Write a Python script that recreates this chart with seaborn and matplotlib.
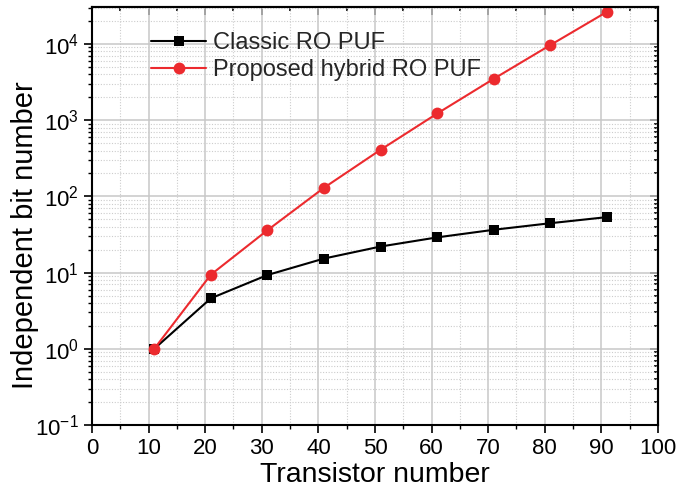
import matplotlib
matplotlib.use("Agg")
import matplotlib.pyplot as plt
from matplotlib.ticker import MultipleLocator, LogLocator, NullFormatter
import seaborn as sns
import pandas as pd

# Transistor count per PUF configuration
transistors = [11, 21, 31, 41, 51, 61, 71, 81, 91]
# Independent bits obtained by each design
classic_bits = [1, 4.6, 9.3, 15.3, 22, 29, 36.5, 44.5, 53.5]
hybrid_bits = [1, 9.4, 36, 130, 410, 1225, 3500, 9700, 26500]
series_names = ["Classic RO PUF", "Proposed hybrid RO PUF"]
x_ticks = list(range(0, 101, 10))

sns.set_theme(style="white")
plt.rcParams["font.family"] = ["Liberation Sans", "DejaVu Sans"]
plt.rcParams["mathtext.fontset"] = "custom"
plt.rcParams["mathtext.rm"] = "Liberation Sans"
plt.rcParams["mathtext.it"] = "Liberation Sans:italic"

df = pd.DataFrame({
    "Transistor number": transistors * 2,
    "bits": classic_bits + hybrid_bits,
    "series": [series_names[0]] * len(transistors) + [series_names[1]] * len(transistors),
})

fig = plt.figure(figsize=(6.8, 5.0), dpi=100)
ax = fig.add_axes([0.1353, 0.15, 0.8323, 0.836])

sns.lineplot(
    data=df, x="Transistor number", y="bits", hue="series", style="series",
    palette={series_names[0]: "black", series_names[1]: "#ec2a2e"},
    markers={series_names[0]: "s", series_names[1]: "o"},
    dashes=False, linewidth=1.5, markersize=7.5, markeredgewidth=0,
    ax=ax, legend=True,
)
# circles a touch larger than squares
for line in ax.get_lines():
    if line.get_marker() == "o":
        line.set_markersize(8.5)

ax.set_yscale("log")
ax.set_xlim(0, 100)
ax.set_ylim(0.1, 3.06e4)
ax.set_xticks(x_ticks)
ax.xaxis.set_minor_locator(MultipleLocator(5))
ax.yaxis.set_major_locator(LogLocator(base=10, numticks=20))
ax.yaxis.set_minor_locator(LogLocator(base=10, subs=range(2, 10), numticks=20))
ax.yaxis.set_minor_formatter(NullFormatter())

ax.grid(True, which="major", color="#c8c8c8", linewidth=1.1, linestyle="-")
ax.grid(True, which="minor", color="#cccccc", linewidth=0.8, linestyle=(0, (1, 1.5)))
ax.set_axisbelow(True)

for s in ax.spines.values():
    s.set_visible(True)
    s.set_color("black")
    s.set_linewidth(1.5)

ax.tick_params(axis="both", which="major", labelsize=16, length=6, width=1.2,
               color="black", labelcolor="black")
ax.tick_params(axis="both", which="minor", length=3, width=1.0, color="black")
ax.tick_params(axis="both", which="both", direction="out", bottom=True, left=True)
# inward ticks on the top and right edges
tx = ax.secondary_xaxis("top")
tx.set_xticks(x_ticks)
tx.xaxis.set_minor_locator(MultipleLocator(5))
tx.tick_params(which="both", direction="in", labeltop=False, width=1.2, color="black")
tx.tick_params(which="major", length=6)
tx.tick_params(which="minor", length=3)
tx.spines["top"].set_linewidth(1.5)
ty = ax.secondary_yaxis("right")
ty.yaxis.set_major_locator(LogLocator(base=10, numticks=20))
ty.yaxis.set_minor_locator(LogLocator(base=10, subs=range(2, 10), numticks=20))
ty.yaxis.set_minor_formatter(NullFormatter())
ty.tick_params(which="both", direction="in", labelright=False, width=1.2, color="black")
ty.tick_params(which="major", length=6)
ty.tick_params(which="minor", length=3)
ty.spines["right"].set_linewidth(1.5)

ax.set_xlabel("Transistor number", fontsize=20.5, labelpad=2, color="black")
ax.set_ylabel("Independent bit number", fontsize=21, color="black")
ax.yaxis.set_label_coords(-0.094, 0.455)

leg = ax.legend(loc="upper left", bbox_to_anchor=(0.08, 0.973), frameon=False,
                fontsize=17, handlelength=2.3, handletextpad=0.3,
                labelspacing=0.2, borderaxespad=0.2)

fig.savefig("out.png", dpi=100)
